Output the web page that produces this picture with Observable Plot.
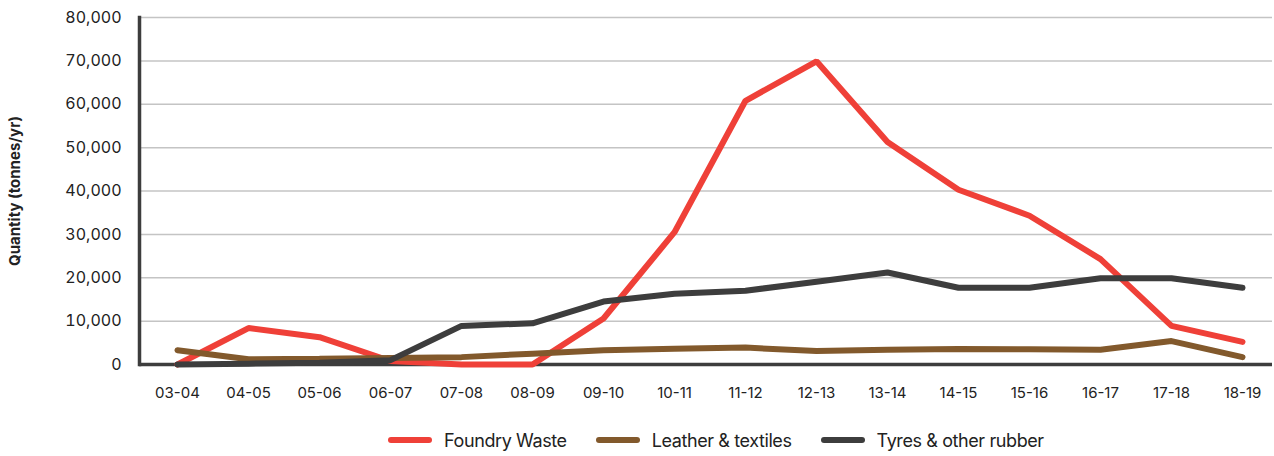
<!DOCTYPE html>
<html>
<head>
<meta charset="utf-8">
<script src="https://cdn.jsdelivr.net/npm/d3@7"></script>
<script src="https://cdn.jsdelivr.net/npm/@observablehq/plot@0.6"></script>
<style>
  html, body { margin: 0; padding: 0; background: #fff; }
  #chart { width: 1274px; }
  .legend { display: flex; justify-content: flex-start; align-items: center; height: 46px; padding-top: 14px;
    font-family: Inter, "Noto Sans", sans-serif; font-size: 18px; color: #222; letter-spacing: -0.4px; padding-left: 388px; box-sizing: border-box; }
  .legend .item { display: flex; align-items: center; margin-right: 29px; }
  .legend .sw { display: inline-block; width: 44px; height: 6px; border-radius: 3px; margin-right: 12px; }
</style>
</head>
<body>
<div id="chart"></div>
<script>
const years = ["03-04","04-05","05-06","06-07","07-08","08-09","09-10","10-11","11-12","12-13","13-14","14-15","15-16","16-17","17-18","18-19"];
const foundryWaste = [0, 8400, 6300, 800, 0, 0, 10600, 30500, 60800, 69900, 51300, 40300, 34300, 24300, 8900, 5200];
const leatherTextiles = [3300, 1200, 1300, 1500, 1700, 2500, 3300, 3650, 3900, 3100, 3400, 3600, 3500, 3400, 5400, 1700];
const tyresRubber = [0, 200, 400, 1000, 8900, 9500, 14500, 16300, 17000, 19100, 21200, 17700, 17700, 19900, 19900, 17700];
const seriesNames = ["Foundry Waste", "Leather & textiles", "Tyres & other rubber"];
const seriesColors = ["#ef4038", "#82592c", "#3d3d3d"];
const yTicks = [0, 10000, 20000, 30000, 40000, 50000, 60000, 70000, 80000];

const seriesValues = [foundryWaste, leatherTextiles, tyresRubber];
const data = seriesNames.flatMap((s, i) => years.map((y, j) => ({series: s, year: y, value: seriesValues[i][j]})));

const font = "Inter, 'Noto Sans', sans-serif";
const chart = Plot.plot({
  width: 1274,
  height: 410,
  marginLeft: 139,
  marginRight: 2,
  marginTop: 17,
  marginBottom: 46,
  style: { fontFamily: font, fontSize: "16px", color: "#222", background: "#fff" },
  x: { type: "point", domain: years, range: [172, 1246], padding: 0 },
  y: { domain: [0, 80000] },
  color: { domain: seriesNames, range: seriesColors },
  marks: [
    Plot.ruleY(yTicks.filter(d => d > 0), { stroke: "#c4c4c4", strokeWidth: 1.5 }),
    Plot.axisY({ ticks: yTicks, tickFormat: d3.format(","), tickSize: 0, tickPadding: 18, label: "Quantity (tonnes/yr)", labelAnchor: "center", labelArrow: "none", labelOffset: 130, fontSize: 16, letterSpacing: -0.6 }),
    Plot.axisX({ tickSize: 0, tickPadding: 23, label: null, fontSize: 15, letterSpacing: -0.6 }),
    Plot.ruleY([0], { stroke: "#3d3d3d", strokeWidth: 3.5 }),
    Plot.frame({ anchor: "left", stroke: "#3d3d3d", strokeWidth: 3.5 }),
    Plot.line(data, { x: "year", y: "value", z: "series", stroke: "series", strokeWidth: 6, strokeLinecap: "round", strokeLinejoin: "miter" })
  ]
});
chart.querySelectorAll("g[aria-label='y-axis label'] text").forEach(t => { t.setAttribute("font-weight", "bold"); t.setAttribute("font-size", "15"); });
document.getElementById("chart").appendChild(chart);

const legend = document.createElement("div");
legend.className = "legend";
seriesNames.forEach((s, i) => {
  const item = document.createElement("div");
  item.className = "item";
  const sw = document.createElement("span");
  sw.className = "sw";
  sw.style.background = seriesColors[i];
  item.appendChild(sw);
  item.appendChild(document.createTextNode(s));
  legend.appendChild(item);
});
document.getElementById("chart").appendChild(legend);
</script>
</body>
</html>
